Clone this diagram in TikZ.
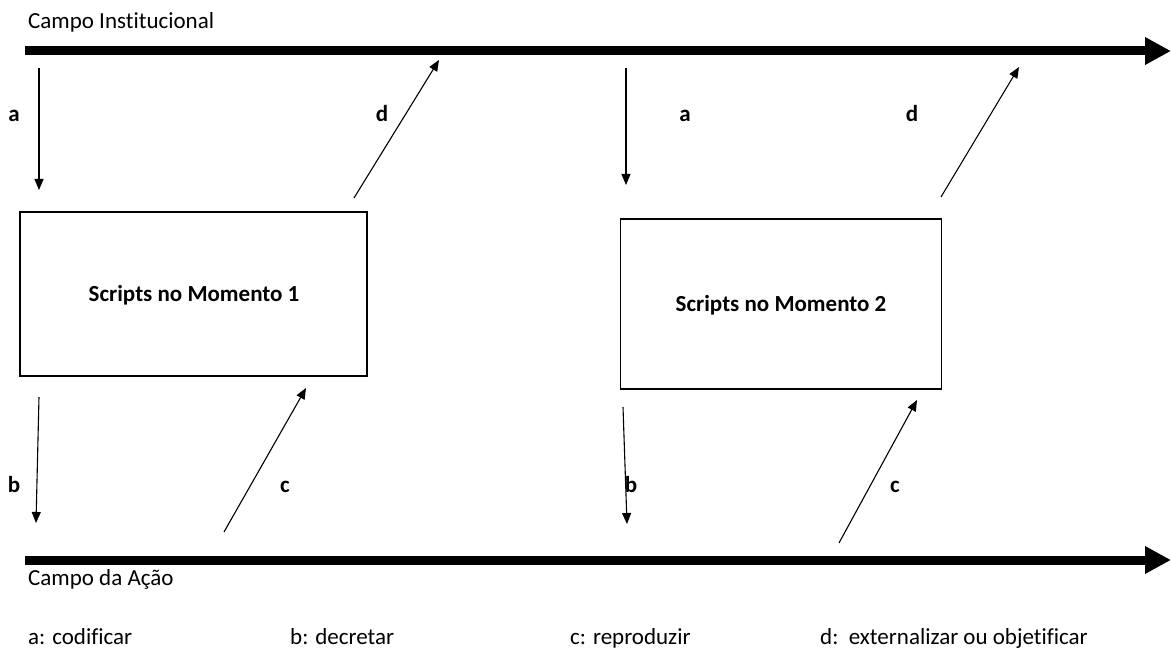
\documentclass[tikz,border=0pt]{standalone}
\usepackage{fontspec}
\setmainfont[Ligatures={NoCommon}]{Carlito}
\usetikzlibrary{arrows.meta}
\begin{document}
\begin{tikzpicture}[x=1pt,y=-1pt,
  field/.style={line width=9pt,-{Triangle[length=26pt,width=26pt]}},
  flow/.style={line width=1.1pt,-{Triangle[length=11pt,width=9pt]}},
  script/.style={draw,line width=1.2pt,inner sep=0pt,font=\fontsize{23}{27}\selectfont\bfseries},
  plain/.style={anchor=base west,inner sep=0pt,font=\fontsize{23}{27}\selectfont},
  letter/.style={anchor=base,inner sep=0pt,font=\fontsize{23}{27}\selectfont\bfseries}]
\useasboundingbox (0,0) rectangle (1171,650);

% the two fields as thick timelines
\coordinate (instA) at (25,51);
\coordinate (instB) at (1171,51);
\coordinate (acaoA) at (25,560);
\coordinate (acaoB) at (1171,560);
\draw[field] (instA) -- (instB);
\draw[field] (acaoA) -- (acaoB);
\node[plain] (inst) at (28,29) {Campo Institucional};
\node[plain] (acao) at (28,585) {Campo da Ação};

% script boxes
\node[script,minimum width=347pt,minimum height=164pt] (m1) at (193.5,294) {};
\node[script,minimum width=321pt,minimum height=170pt] (m2) at (781,304) {};
\node[letter] (t1) at (194,301) {Scripts no Momento 1};
\node[letter] (t2) at (781,311) {Scripts no Momento 2};

% moment 1 flows
\coordinate (a1s) at (39,68);   \coordinate (a1e) at (39,190);
\coordinate (d1s) at (354,198); \coordinate (d1e) at (439,60);
\coordinate (b1s) at (39,397);  \coordinate (b1e) at (36,523);
\coordinate (c1s) at (224,532); \coordinate (c1e) at (306,388);
\draw[flow] (a1s) -- (a1e);
\draw[flow] (d1s) -- (d1e);
\draw[flow] (b1s) -- (b1e);
\draw[flow] (c1s) -- (c1e);
\node[letter] (la1) at (14,122) {a};
\node[letter] (ld1) at (382,122) {d};
\node[letter] (lb1) at (14,492) {b};
\node[letter] (lc1) at (285,492) {c};

% moment 2 flows
\coordinate (a2s) at (626,68);  \coordinate (a2e) at (626,185);
\coordinate (d2s) at (941,197); \coordinate (d2e) at (1019,67);
\coordinate (b2s) at (623,407); \coordinate (b2e) at (627,524);
\coordinate (c2s) at (839,543); \coordinate (c2e) at (917,400);
\draw[flow] (a2s) -- (a2e);
\draw[flow] (d2s) -- (d2e);
\draw[flow] (b2s) -- (b2e);
\draw[flow] (c2s) -- (c2e);
\node[letter] (la2) at (685,122) {a};
\node[letter] (ld2) at (912,122) {d};
\node[letter] (lb2) at (631,492) {b};
\node[letter] (lc2) at (895,492) {c};

% legend
\node[plain] (k1) at (28,644) {a: codificar};
\node[plain] (k2) at (290,644) {b: decretar};
\node[plain] (k3) at (570,644) {c: reproduzir};
\node[plain] (k4) at (820,644) {d:\ \ externalizar ou objetificar};
\end{tikzpicture}
\end{document}
